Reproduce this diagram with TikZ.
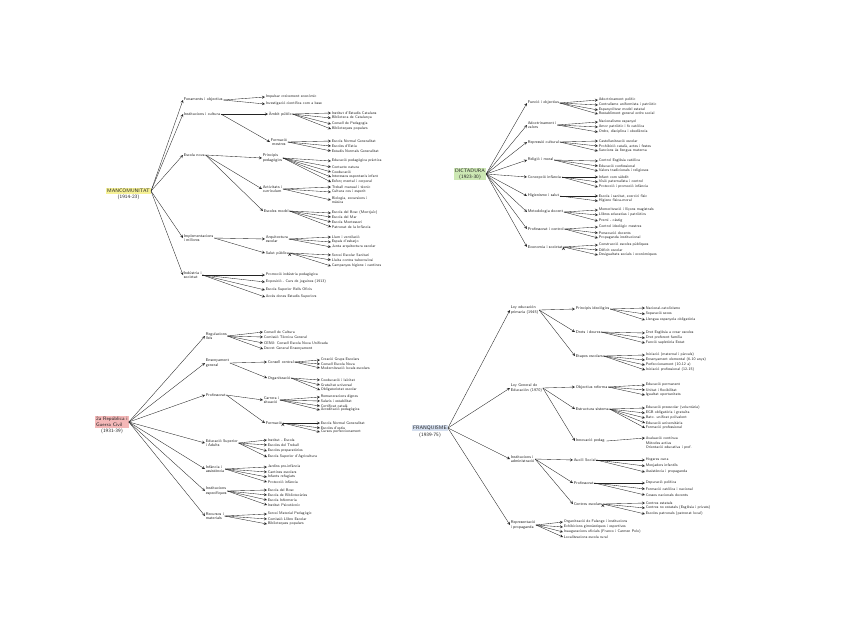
\documentclass[tikz,border=0pt]{standalone}
\usepackage{fontspec}
\usetikzlibrary{positioning}
\definecolor{mancyellow}{RGB}{246,241,150}
\definecolor{dictgreen}{RGB}{205,232,180}
\definecolor{reppink}{RGB}{244,184,184}
\definecolor{franblue}{RGB}{212,222,238}
\definecolor{ink}{RGB}{35,35,35}
\tikzset{
  root/.style={inner sep=1pt,text=ink,align=center,font=\sffamily\fontsize{5}{6}\selectfont},
  branch/.style={anchor=west,inner sep=0.6pt,text=ink,align=left,font=\sffamily\fontsize{4}{4.6}\selectfont},
  leaf/.style={anchor=west,inner sep=0.6pt,text=ink,font=\sffamily\fontsize{3.8}{4.4}\selectfont},
}
\begin{document}
\begin{tikzpicture}[x=1pt,y=-1pt,>=stealth,every path/.style={draw=ink,line width=0.35pt}]
	\useasboundingbox[fill=white,draw=none] (0,0) rectangle (848,640);
	% Mancomunitat
	\node[root,fill=mancyellow,anchor=west] (mc) at (106,191) {MANCOMUNITAT};
	\node[root,below=0pt of mc] (mcyear) {(1914-23)};
	\node[branch] (mcfon) at (183,100) {Fonaments i objectius};
	\node[branch] (mcins) at (183,114) {Institucions i cultura};
	\node[branch] (mcesc) at (183,155) {Escola nova};
	\node[branch] (mcimp) at (183,238) {Implementacions\\i millores};
	\node[branch] (mcind) at (183,275) {Indústria i\\societat};
	\node[leaf] (mcfon1) at (265,97) {Impulsar creixement econòmic};
	\node[leaf] (mcfon2) at (265,104) {Investigació científica com a base};
	\node[branch] (mcamb) at (268,114) {Àmbit públic};
	\node[branch,align=center] (mcfor) at (270,142) {Formació\\mestres};
	\node[branch] (mcpri) at (262,158) {Principis\\pedagògics};
	\node[branch] (mcact) at (262,189) {Activitats i\\currículum};
	\node[branch] (mcmod) at (263,211) {Escoles model};
	\node[branch] (mcarq) at (265,239) {Arquitectura\\escolar};
	\node[branch] (mcsal) at (265,253) {Salut pública};
	\node[leaf] (mcind1) at (265,275) {Promoció indústria pedagògica};
	\node[leaf] (mcind2) at (265,282) {Exposició - Curs de joguines (1913)};
	\node[leaf] (mcind3) at (265,290) {Escola Superior Bells Oficis};
	\node[leaf] (mcind4) at (265,297) {Accés dones Estudis Superiors};
	\node[leaf] (mcamb1) at (331,113) {Institut d'Estudis Catalans};
	\node[leaf] (mcamb2) at (331,118) {Biblioteca de Catalunya};
	\node[leaf] (mcamb3) at (331,124) {Consell de Pedagogia};
	\node[leaf] (mcamb4) at (331,129) {Biblioteques populars};
	\node[leaf] (mcfor1) at (331,141) {Escola Normal Generalitat};
	\node[leaf] (mcfor2) at (331,146) {Escoles d'Estiu};
	\node[leaf] (mcfor3) at (331,151) {Estudis Normals Generalitat};
	\node[leaf] (mcpri1) at (331,161) {Educació pedagògica pràctica};
	\node[leaf] (mcpri2) at (331,167) {Contacte natura};
	\node[leaf] (mcpri3) at (331,172) {Coeducació};
	\node[leaf] (mcpri4) at (331,177) {Interessos espontanis infant};
	\node[leaf] (mcpri5) at (331,182) {Esforç mental i corporal};
	\node[leaf] (mcact1) at (331,187) {Treball manual i tècnic};
	\node[leaf] (mcact2) at (331,192) {Cultura cos i esperit};
	\node[leaf,align=left] (mcact3) at (331,200) {Biologia, excursions i\\música};
	\node[leaf] (mcmod1) at (331,213) {Escola del Bosc (Montjuïc)};
	\node[leaf] (mcmod2) at (331,217) {Escola del Mar};
	\node[leaf] (mcmod3) at (331,222) {Escola Montessori};
	\node[leaf] (mcmod4) at (331,227) {Patronat de la Infància};
	\node[leaf] (mcarq1) at (331,237) {Llum i ventilació};
	\node[leaf] (mcarq2) at (331,242) {Espais d'esbarjo};
	\node[leaf] (mcarq3) at (331,247) {Junta arquitectura escolar};
	\node[leaf] (mcsal1) at (331,255) {Servei Escolar Sanitari};
	\node[leaf] (mcsal2) at (331,260) {Lluita contra tuberculosi};
	\node[leaf] (mcsal3) at (331,266) {Campanyes higiene i cantines};
	\path[->] (mc.east) edge (mcfon.west) (mc.east) edge (mcins.west) (mc.east) edge (mcesc.west)
		(mc.east) edge (mcimp.west) (mc.east) edge (mcind.west)
		(mcfon.east) edge (mcfon1.west) (mcfon.east) edge (mcfon2.west)
		(mcins.east) edge (mcamb.west) (mcins.east) edge (mcfor.west)
		(mcesc.east) edge (mcpri.west) (mcesc.east) edge (mcact.west) (mcesc.east) edge (mcmod.west)
		(mcimp.east) edge (mcarq.west) (mcimp.east) edge (mcsal.west)
		(mcind.east) edge (mcind1.west) (mcind.east) edge (mcind2.west)
		(mcind.east) edge (mcind3.west) (mcind.east) edge (mcind4.west)
		(mcamb.east) edge (mcamb1.west) (mcamb.east) edge (mcamb2.west)
		(mcamb.east) edge (mcamb3.west) (mcamb.east) edge (mcamb4.west)
		(mcfor.east) edge (mcfor1.west) (mcfor.east) edge (mcfor2.west) (mcfor.east) edge (mcfor3.west)
		(mcpri.east) edge (mcpri1.west) (mcpri.east) edge (mcpri2.west) (mcpri.east) edge (mcpri3.west)
		(mcpri.east) edge (mcpri4.west) (mcpri.east) edge (mcpri5.west)
		(mcact.east) edge (mcact1.west) (mcact.east) edge (mcact2.west) (mcact.east) edge (mcact3.west)
		(mcmod.east) edge (mcmod1.west) (mcmod.east) edge (mcmod2.west)
		(mcmod.east) edge (mcmod3.west) (mcmod.east) edge (mcmod4.west)
		(mcarq.east) edge (mcarq1.west) (mcarq.east) edge (mcarq2.west) (mcarq.east) edge (mcarq3.west)
		(mcsal.east) edge (mcsal1.west) (mcsal.east) edge (mcsal2.west) (mcsal.east) edge (mcsal3.west);
	% Dictadura
	\node[root,fill=dictgreen] (dc) at (470,174) {DICTADURA\\(1923-30)};
	\node[branch] (dcfun) at (527,103) {Funció i objectius};
	\node[branch] (dcado) at (527,125) {Adoctrinament i\\valors};
	\node[branch] (dcrep) at (527,142) {Repressió cultural};
	\node[branch] (dcrel) at (527,160) {Religió i moral};
	\node[branch] (dccon) at (527,177) {Concepció infància};
	\node[branch] (dchig) at (527,196) {Higienisme i salut};
	\node[branch] (dcmet) at (527,212) {Metodologia docent};
	\node[branch] (dcpro) at (527,229) {Professorat i control};
	\node[branch] (dceco) at (527,247) {Economia i societat};
	\node[leaf] (dcfun1) at (598,100) {Adoctrinament polític};
	\node[leaf] (dcfun2) at (598,105) {Centralisme uniformista i patriòtic};
	\node[leaf] (dcfun3) at (598,110) {Espanyolitzar model estatal};
	\node[leaf] (dcfun4) at (598,114) {Restabliment general ordre social};
	\node[leaf] (dcado1) at (598,122) {Nacionalisme espanyol};
	\node[leaf] (dcado2) at (598,127) {Amor patriòtic i fe catòlica};
	\node[leaf] (dcado3) at (598,132) {Ordre, disciplina i obediència};
	\node[leaf] (dcrep1) at (598,141) {Castellanització escolar};
	\node[leaf] (dcrep2) at (598,146) {Prohibició català, actes i festes};
	\node[leaf] (dcrep3) at (598,151) {Sancions ús llengua materna};
	\node[leaf] (dcrel1) at (598,161) {Control Església catòlica};
	\node[leaf] (dcrel2) at (598,166) {Educació confessional};
	\node[leaf] (dcrel3) at (598,171) {Valors tradicionals i religiosos};
	\node[leaf] (dccon1) at (598,177) {Infant com súbdit};
	\node[leaf] (dccon2) at (598,182) {Visió paternalista i control};
	\node[leaf] (dccon3) at (598,187) {Protecció i promoció infància};
	\node[leaf] (dchig1) at (598,196) {Escola i sanitat, exercici físic};
	\node[leaf] (dchig2) at (598,201) {Higiene física-moral};
	\node[leaf] (dcmet1) at (598,210) {Memorització i lliçons magistrals};
	\node[leaf] (dcmet2) at (598,215) {Llibres educatius i patriòtics};
	\node[leaf] (dcmet3) at (598,221) {Premi - càstig};
	\node[leaf] (dcpro1) at (598,227) {Control ideològic mestres};
	\node[leaf] (dcpro2) at (598,233) {Persecució docents};
	\node[leaf] (dcpro3) at (598,238) {Propaganda institucional};
	\node[leaf] (dceco1) at (598,245) {Construcció escoles públiques};
	\node[leaf] (dceco2) at (598,250) {Dèficit escolar};
	\node[leaf] (dceco3) at (598,255) {Desigualtats socials i econòmiques};
	\path[->] (dc.east) edge (dcfun.west) (dc.east) edge (dcado.west) (dc.east) edge (dcrep.west)
		(dc.east) edge (dcrel.west) (dc.east) edge (dccon.west) (dc.east) edge (dchig.west)
		(dc.east) edge (dcmet.west) (dc.east) edge (dcpro.west) (dc.east) edge (dceco.west)
		(dcfun.east) edge (dcfun1.west) (dcfun.east) edge (dcfun2.west)
		(dcfun.east) edge (dcfun3.west) (dcfun.east) edge (dcfun4.west)
		(dcado.east) edge (dcado1.west) (dcado.east) edge (dcado2.west) (dcado.east) edge (dcado3.west)
		(dcrep.east) edge (dcrep1.west) (dcrep.east) edge (dcrep2.west) (dcrep.east) edge (dcrep3.west)
		(dcrel.east) edge (dcrel1.west) (dcrel.east) edge (dcrel2.west) (dcrel.east) edge (dcrel3.west)
		(dccon.east) edge (dccon1.west) (dccon.east) edge (dccon2.west) (dccon.east) edge (dccon3.west)
		(dchig.east) edge (dchig1.west) (dchig.east) edge (dchig2.west)
		(dcmet.east) edge (dcmet1.west) (dcmet.east) edge (dcmet2.west) (dcmet.east) edge (dcmet3.west)
		(dcpro.east) edge (dcpro1.west) (dcpro.east) edge (dcpro2.west) (dcpro.east) edge (dcpro3.west)
		(dceco.east) edge (dceco1.west) (dceco.east) edge (dceco2.west) (dceco.east) edge (dceco3.west);
	% 2a Republica
	\node[root,fill=reppink,anchor=west,align=left] (rp) at (95,422) {2a República i\\Guerra Civil};
	\node[root,below=0pt of rp] (rpyear) {(1931-39)};
	\node[branch] (rpreg) at (205,336) {Regulacions\\lleis};
	\node[branch] (rpens) at (205,363) {Ensenyament\\general};
	\node[branch] (rppro) at (205,395) {Professorat};
	\node[branch] (rpedu) at (205,443) {Educació Superior\\i Adults};
	\node[branch] (rpinf) at (205,469) {Infància i\\assistència};
	\node[branch] (rpins) at (205,491) {Institucions\\específiques};
	\node[branch] (rprec) at (205,516) {Recursos i\\materials};
	\node[leaf] (rpreg1) at (263,332) {Consell de Cultura};
	\node[leaf] (rpreg2) at (263,337) {Comissió Tècnica General};
	\node[leaf] (rpreg3) at (263,343) {CENU: Consell Escola Nova Unificada};
	\node[leaf] (rpreg4) at (263,349) {Decret General Ensenyament};
	\node[branch] (rpcen) at (267,362) {Consell central};
	\node[branch] (rporg) at (267,378) {Organització};
	\node[branch] (rpcar) at (263,400) {Carrera i\\situació};
	\node[branch] (rpfor) at (265,423) {Formació};
	\node[leaf] (rpedu1) at (267,440) {Institut - Escola};
	\node[leaf] (rpedu2) at (267,445) {Escoles del Treball};
	\node[leaf] (rpedu3) at (267,451) {Escoles preparatòries};
	\node[leaf] (rpedu4) at (267,457) {Escola Superior d'Agricultura};
	\node[leaf] (rpinf1) at (267,467) {Jardins pre-infància};
	\node[leaf] (rpinf2) at (267,472) {Cantines escolars};
	\node[leaf] (rpinf3) at (267,477) {Infants refugiats};
	\node[leaf] (rpinf4) at (267,482) {Protecció infància};
	\node[leaf] (rpins1) at (267,490) {Escola del Bosc};
	\node[leaf] (rpins2) at (267,495) {Escola de Bibliotecàries};
	\node[leaf] (rpins3) at (267,500) {Escola Infermeria};
	\node[leaf] (rpins4) at (267,505) {Institut Psicotècnic};
	\node[leaf] (rprec1) at (267,514) {Servei Material Pedagògic};
	\node[leaf] (rprec2) at (267,519) {Comissió Llibre Escolar};
	\node[leaf] (rprec3) at (267,524) {Biblioteques populars};
	\node[leaf] (rpcen1) at (320,360) {Creació Grups Escolars};
	\node[leaf] (rpcen2) at (320,364) {Consell Escola Nova};
	\node[leaf] (rpcen3) at (320,368) {Modernització locals escolars};
	\node[leaf] (rporg1) at (320,380) {Coeducació i laïcitat};
	\node[leaf] (rporg2) at (320,385) {Gratuïtat universal};
	\node[leaf] (rporg3) at (320,390) {Obligatorietat escolar};
	\node[leaf] (rpcar1) at (320,397) {Remuneracions dignes};
	\node[leaf] (rpcar2) at (320,401) {Salaris i estabilitat};
	\node[leaf] (rpcar3) at (320,406) {Certificat català};
	\node[leaf] (rpcar4) at (320,410) {Acreditació pedagògica};
	\node[leaf] (rpfor1) at (320,423) {Escola Normal Generalitat};
	\node[leaf] (rpfor2) at (320,428) {Escoles d'estiu};
	\node[leaf] (rpfor3) at (320,432) {Cursos perfeccionament};
	\path[->] (rp.east) edge (rpreg.west) (rp.east) edge (rpens.west) (rp.east) edge (rppro.west)
		(rp.east) edge (rpedu.west) (rp.east) edge (rpinf.west) (rp.east) edge (rpins.west)
		(rp.east) edge (rprec.west)
		(rpreg.east) edge (rpreg1.west) (rpreg.east) edge (rpreg2.west)
		(rpreg.east) edge (rpreg3.west) (rpreg.east) edge (rpreg4.west)
		(rpens.east) edge (rpcen.west) (rpens.east) edge (rporg.west)
		(rppro.east) edge (rpcar.west) (rppro.east) edge (rpfor.west)
		(rpedu.east) edge (rpedu1.west) (rpedu.east) edge (rpedu2.west)
		(rpedu.east) edge (rpedu3.west) (rpedu.east) edge (rpedu4.west)
		(rpinf.east) edge (rpinf1.west) (rpinf.east) edge (rpinf2.west)
		(rpinf.east) edge (rpinf3.west) (rpinf.east) edge (rpinf4.west)
		(rpins.east) edge (rpins1.west) (rpins.east) edge (rpins2.west)
		(rpins.east) edge (rpins3.west) (rpins.east) edge (rpins4.west)
		(rprec.east) edge (rprec1.west) (rprec.east) edge (rprec2.west) (rprec.east) edge (rprec3.west)
		(rpcen.east) edge (rpcen1.west) (rpcen.east) edge (rpcen2.west) (rpcen.east) edge (rpcen3.west)
		(rporg.east) edge (rporg1.west) (rporg.east) edge (rporg2.west) (rporg.east) edge (rporg3.west)
		(rpcar.east) edge (rpcar1.west) (rpcar.east) edge (rpcar2.west)
		(rpcar.east) edge (rpcar3.west) (rpcar.east) edge (rpcar4.west)
		(rpfor.east) edge (rpfor1.west) (rpfor.east) edge (rpfor2.west) (rpfor.east) edge (rpfor3.west);
	% Franquisme
	\node[root,fill=franblue,anchor=west] (fq) at (412,428) {FRANQUISME};
	\node[root,below=0pt of fq] (fqyear) {(1939-75)};
	\node[branch] (fqley) at (510,310) {Ley educación\\primaria (1945)};
	\node[branch] (fqlge) at (510,388) {Ley General de\\Educación (1970)};
	\node[branch] (fqins) at (510,459) {Institucions i\\administració};
	\node[branch] (fqrep) at (510,525) {Representació\\i propaganda};
	\node[branch] (fqpri) at (575,309) {Principis ideològics};
	\node[branch] (fqdre) at (575,332) {Drets i deures};
	\node[branch] (fqeta) at (575,356) {Etapes escolars};
	\node[branch] (fqobj) at (575,387) {Objectius reforma};
	\node[branch] (fqest) at (575,409) {Estructura sistema};
	\node[branch] (fqinn) at (575,441) {Innovació pedag.};
	\node[branch] (fqaux) at (573,460) {Auxili Social};
	\node[branch] (fqpro) at (573,483) {Professorat};
	\node[branch] (fqcen) at (573,504) {Centres escolars};
	\node[leaf] (fqpri1) at (645,308) {Nacional-catolicisme};
	\node[leaf] (fqpri2) at (645,314) {Separació sexes};
	\node[leaf] (fqpri3) at (645,320) {Llengua espanyola obligatòria};
	\node[leaf] (fqdre1) at (645,333) {Dret Església a crear escoles};
	\node[leaf] (fqdre2) at (645,338) {Dret preferent família};
	\node[leaf] (fqdre3) at (645,343) {Funció supletòria Estat};
	\node[leaf] (fqeta1) at (645,355) {Iniciació (maternal i pàrvuls)};
	\node[leaf] (fqeta2) at (645,360) {Ensenyament elemental (6-10 anys)};
	\node[leaf] (fqeta3) at (645,365) {Perfeccionament (10-12 a)};
	\node[leaf] (fqeta4) at (645,370) {Iniciació professional (12-15)};
	\node[leaf] (fqobj1) at (645,385) {Educació permanent};
	\node[leaf] (fqobj2) at (645,390) {Unitat i flexibilitat};
	\node[leaf] (fqobj3) at (645,395) {Igualtat oportunitats};
	\node[leaf] (fqest1) at (645,408) {Educació preescolar (voluntària)};
	\node[leaf] (fqest2) at (645,413) {EGB obligatòria i gratuïta};
	\node[leaf] (fqest3) at (645,418) {Batx. unificat polivalent};
	\node[leaf] (fqest4) at (645,423) {Educació universitària};
	\node[leaf] (fqest5) at (645,428) {Formació professional};
	\node[leaf] (fqinn1) at (645,438) {Avaluació contínua};
	\node[leaf] (fqinn2) at (645,443) {Mètodes actius};
	\node[leaf] (fqinn3) at (645,448) {Orientació educativa i prof.};
	\node[leaf] (fqaux1) at (645,460) {Hogares cuna};
	\node[leaf] (fqaux2) at (645,466) {Menjadors infantils};
	\node[leaf] (fqaux3) at (645,472) {Assistència i propaganda};
	\node[leaf] (fqpro1) at (645,483) {Depuració política};
	\node[leaf] (fqpro2) at (645,489) {Formació catòlica i nacional};
	\node[leaf] (fqpro3) at (645,495) {Cossos nacionals docents};
	\node[leaf] (fqcen1) at (645,503) {Centres estatals};
	\node[leaf] (fqcen2) at (645,508) {Centres no estatals (Església i privats)};
	\node[leaf] (fqcen3) at (645,514) {Escoles patronals (patronat local)};
	\node[leaf] (fqrep1) at (563,522) {Organització de Falange i institucions};
	\node[leaf] (fqrep2) at (563,527) {Exhibicions gimnàstiques i esportives};
	\node[leaf] (fqrep3) at (563,532) {Inauguracions oficials (Franco i Carmen Polo)};
	\node[leaf] (fqrep4) at (563,537) {Localitzacions escola rural};
	\path[->] (fq.east) edge (fqley.west) (fq.east) edge (fqlge.west)
		(fq.east) edge (fqins.west) (fq.east) edge (fqrep.west)
		(fqley.east) edge (fqpri.west) (fqley.east) edge (fqdre.west) (fqley.east) edge (fqeta.west)
		(fqlge.east) edge (fqobj.west) (fqlge.east) edge (fqest.west) (fqlge.east) edge (fqinn.west)
		(fqins.east) edge (fqaux.west) (fqins.east) edge (fqpro.west) (fqins.east) edge (fqcen.west)
		(fqrep.east) edge (fqrep1.west) (fqrep.east) edge (fqrep2.west)
		(fqrep.east) edge (fqrep3.west) (fqrep.east) edge (fqrep4.west)
		(fqpri.east) edge (fqpri1.west) (fqpri.east) edge (fqpri2.west) (fqpri.east) edge (fqpri3.west)
		(fqdre.east) edge (fqdre1.west) (fqdre.east) edge (fqdre2.west) (fqdre.east) edge (fqdre3.west)
		(fqeta.east) edge (fqeta1.west) (fqeta.east) edge (fqeta2.west)
		(fqeta.east) edge (fqeta3.west) (fqeta.east) edge (fqeta4.west)
		(fqobj.east) edge (fqobj1.west) (fqobj.east) edge (fqobj2.west) (fqobj.east) edge (fqobj3.west)
		(fqest.east) edge (fqest1.west) (fqest.east) edge (fqest2.west) (fqest.east) edge (fqest3.west)
		(fqest.east) edge (fqest4.west) (fqest.east) edge (fqest5.west)
		(fqinn.east) edge (fqinn1.west)
		(fqaux.east) edge (fqaux1.west) (fqaux.east) edge (fqaux2.west) (fqaux.east) edge (fqaux3.west)
		(fqpro.east) edge (fqpro1.west) (fqpro.east) edge (fqpro2.west) (fqpro.east) edge (fqpro3.west)
		(fqcen.east) edge (fqcen1.west) (fqcen.east) edge (fqcen2.west) (fqcen.east) edge (fqcen3.west);
\end{tikzpicture}
\end{document}
